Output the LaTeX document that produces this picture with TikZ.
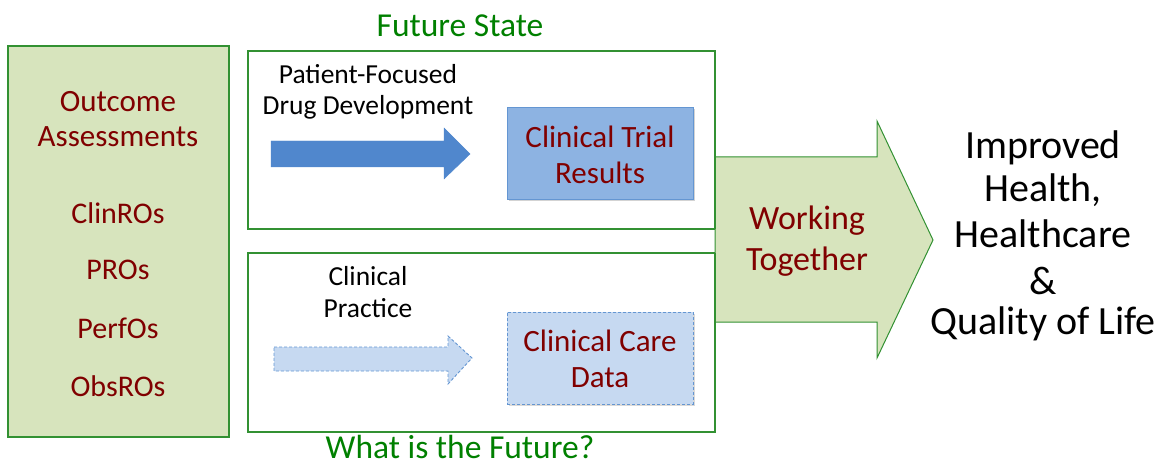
\documentclass[tikz,border=0pt]{standalone}
\usepackage{fontspec}
\setmainfont{Carlito}
\usetikzlibrary{shadows}
\definecolor{boxgreen}{RGB}{50,145,50}
\definecolor{lightgreen}{RGB}{215,228,189}
\definecolor{darkred}{RGB}{128,0,0}
\definecolor{titlegreen}{RGB}{0,128,0}
\definecolor{arrowblue}{RGB}{80,135,205}
\definecolor{midblue}{RGB}{141,179,226}
\definecolor{paleblue}{RGB}{198,217,241}
\definecolor{edgeblue}{RGB}{100,150,210}
\newcommand{\fs}[1]{\fontsize{#1}{#1}\selectfont}
\tikzset{
  frame/.style={draw=boxgreen, line width=1.8pt},
  redtxt/.style={text=darkred, align=center, inner sep=0pt},
  blktxt/.style={text=black, align=center, inner sep=0pt},
  grntxt/.style={text=titlegreen, align=center, inner sep=0pt},
  dashline/.style={dash pattern=on 3pt off 2pt, line width=0.9pt},
}
\begin{document}
\begin{tikzpicture}[x=1pt,y=-1pt]
\useasboundingbox (0,0) rectangle (1161,465);
% left box
\draw[frame, fill=lightgreen, line width=1.4pt] (8,46) rectangle (229,437);
\node[redtxt, font=\fs{31}] (oa1) at (118,102) {Outcome};
\node[redtxt, font=\fs{31}] (oa2) at (118,137) {Assessments};
\node[redtxt, font=\fs{30}] (clin) at (118,213) {ClinROs};
\node[redtxt, font=\fs{30}] (pro) at (118,270) {PROs};
\node[redtxt, font=\fs{30}] (perf) at (118,328) {PerfOs};
\node[redtxt, font=\fs{30}] (obs) at (118,386) {ObsROs};
% top and bottom frames
\draw[frame] (248,51) rectangle (715,229);
\draw[frame] (248,253) rectangle (715,432);
\node[grntxt, font=\fs{33.5}] (fs) at (460,26) {Future State};
\node[grntxt, font=\fs{33.5}] (wf) at (460,447) {What is the Future?};
% top content
\node[blktxt, font=\fs{27.5}] (pf1) at (368,74) {Patient-Focused};
\node[blktxt, font=\fs{27.5}] (pf2) at (368,107) {Drug Development};
\draw[fill=arrowblue, draw=arrowblue] (271,141) -- (444,141) -- (444,128) -- (470,154) -- (444,179) -- (444,167) -- (271,167) -- cycle;
\node[draw=edgeblue, fill=midblue, minimum width=186pt, minimum height=92pt, inner sep=0pt,
  drop shadow={shadow xshift=1.5pt, shadow yshift=-2pt, opacity=0.35}] (ctr) at (600,153) {};
\node[redtxt, font=\fs{31}] (ct1) at (600,137) {Clinical Trial};
\node[redtxt, font=\fs{31}] (ct2) at (600,173) {Results};
% bottom content
\node[blktxt, font=\fs{27.5}] (cp1) at (368,276) {Clinical};
\node[blktxt, font=\fs{27.5}] (cp2) at (368,308) {Practice};
\draw[fill=paleblue, draw=edgeblue, dashline] (274,347) -- (448,347) -- (448,336) -- (472,358) -- (448,384) -- (448,371) -- (274,371) -- cycle;
\node[draw=edgeblue, dashline, fill=paleblue, minimum width=186pt, minimum height=92pt, inner sep=0pt,
  drop shadow={shadow xshift=1.5pt, shadow yshift=-2pt, opacity=0.3}] (ccd) at (600,358) {};
\node[redtxt, font=\fs{31}] (cc1) at (600,341) {Clinical Care};
\node[redtxt, font=\fs{31}] (cc2) at (600,378) {Data};
% big arrow
\draw[fill=lightgreen, draw=boxgreen, line width=1pt] (715,157) -- (877,157) -- (877,121) -- (933,240) -- (877,358) -- (877,322) -- (715,322) -- cycle;
\draw[boxgreen, line width=1.8pt] (715,51) -- (715,229);
\draw[boxgreen, line width=1.8pt] (715,253) -- (715,432);
\node[redtxt, font=\fs{34}] (wt1) at (807,221) {Working};
\node[redtxt, font=\fs{34}] (wt2) at (807,262) {Together};
% right text
\node[blktxt, font=\fs{40}] (r1) at (1043,148) {Improved};
\node[blktxt, font=\fs{40}] (r2) at (1043,190) {Health,};
\node[blktxt, font=\fs{40}] (r3) at (1043,234) {Healthcare};
\node[blktxt, font=\fs{40}] (r4) at (1043,281) {\&};
\node[blktxt, font=\fs{40}] (r5) at (1043,324) {Quality of Life};
\end{tikzpicture}
\end{document}
